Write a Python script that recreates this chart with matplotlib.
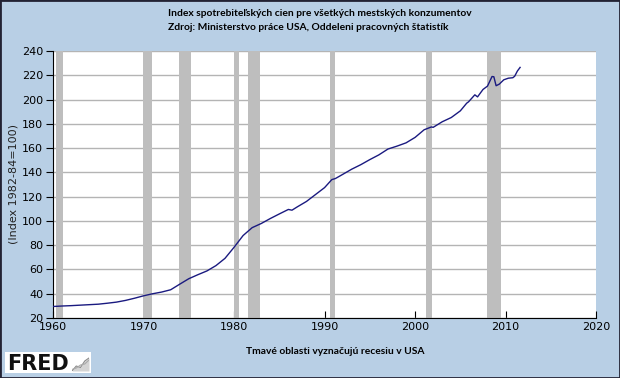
import matplotlib.pyplot as plt
from matplotlib.patches import Rectangle

# CPI-U values (year fraction, index 1982-84=100)
years = [1960.0, 1961.0, 1962.0, 1963.0, 1964.0, 1965.0, 1966.0, 1967.0, 1968.0, 1969.0,
         1970.0, 1971.0, 1972.0, 1973.0, 1974.0, 1975.0, 1976.0, 1977.0, 1978.0, 1979.0,
         1980.0, 1981.0, 1982.0, 1983.0, 1984.0, 1985.0, 1986.0, 1986.4, 1987.0, 1988.0,
         1989.0, 1990.0, 1990.8, 1991.2, 1992.0, 1993.0, 1994.0, 1995.0, 1996.0, 1997.0,
         1998.0, 1999.0, 2000.0, 2001.0, 2001.8, 2002.0, 2003.0, 2004.0, 2005.0, 2005.7,
         2005.9, 2006.6, 2006.9, 2007.5, 2008.0, 2008.5, 2008.7, 2008.95, 2009.3, 2009.8,
         2010.3, 2010.8, 2011.0, 2011.3, 2011.6]
cpi = [29.4, 29.8, 30.1, 30.5, 30.9, 31.3, 32.1, 33.0, 34.4, 36.2,
       38.2, 39.9, 41.3, 43.2, 47.8, 52.3, 55.6, 58.7, 63.1, 69.1,
       78.2, 87.9, 94.4, 97.8, 101.9, 105.7, 109.4, 108.8, 111.6, 116.0,
       121.7, 127.4, 134.0, 134.9, 138.3, 142.6, 146.3, 150.5, 154.4, 159.2,
       161.6, 164.3, 168.8, 175.1, 177.4, 177.1, 181.7, 185.2, 190.7, 197.0,
       198.1, 203.9, 202.2, 208.3, 211.1, 219.0, 218.8, 211.4, 212.7, 216.3,
       217.6, 218.0, 219.2, 223.5, 226.5]

# recessions (start, end)
recessions = [(1960.3, 1961.15), (1969.95, 1970.9), (1973.9, 1975.2), (1980.0, 1980.55),
              (1981.55, 1982.9), (1990.55, 1991.2), (2001.2, 2001.9), (2007.95, 2009.5)]

bg = '#B8CFE5'
fig = plt.figure(figsize=(6.2, 3.78), dpi=100, facecolor=bg)
ax = fig.add_axes([0.0855, 0.159, 0.876, 0.706])
ax.set_facecolor('white')

for s, e in recessions:
    ax.axvspan(s, e, color='#BEBEBE', lw=0, zorder=1)

ax.plot(years, cpi, color='#1A1A80', lw=1.0, zorder=3)

ax.set_xlim(1960, 2020)
ax.set_ylim(20, 240)
ax.set_xticks(range(1960, 2021, 10))
ax.set_yticks(range(20, 241, 20))
ax.grid(axis='y', color='#B4B4B4', lw=1.0, zorder=0)
ax.set_axisbelow(True)

for side in ['top', 'right']:
    ax.spines[side].set_visible(False)
ax.spines['left'].set_color('black')
ax.spines['bottom'].set_color('black')
ax.tick_params(axis='y', direction='out', length=5, labelsize=8, pad=2)
ax.tick_params(axis='x', direction='in', length=5, labelsize=8, pad=3)

ax.set_ylabel('(Index 1982-84=100)', fontsize=8, color='#222222')
ax.yaxis.set_label_coords(-(53 - 18) / (0.876 * 620), 0.5)

fig.text(168 / 620, 1 - 13 / 378, 'Index spotrebiteľských cien pre všetkých mestských konzumentov',
         fontsize=7.4, fontweight='bold', family='Lato', va='center', ha='left')
fig.text(168 / 620, 1 - 28 / 378, 'Zdroj: Ministerstvo práce USA, Oddeleni pracovných štatistík',
         fontsize=7.4, fontweight='bold', family='Lato', va='center', ha='left')
fig.text(335 / 620, 1 - 351 / 378, 'Tmavé oblasti vyznačujú recesiu v USA', fontsize=7.4,
         fontweight='bold', family='Lato', va='center', ha='center')

# FRED logo
fig.patches.append(Rectangle((5 / 620, 5 / 378), 86 / 620, 21 / 378, transform=fig.transFigure,
                             facecolor='white', edgecolor='none', zorder=0))
fig.text(7 / 620, 14.5 / 378, 'FRED', fontsize=15, fontweight='bold', family='DejaVu Sans',
         va='center', ha='left', color='#111111')
icon = fig.add_axes([72 / 620, 7 / 378, 17 / 620, 15 / 378], zorder=5)
icon.fill_between([0, 1, 2, 3, 4], [0, 1, 0.7, 2, 2.6], color='#D4D4D4', lw=0)
icon.plot([0, 1, 2, 3, 4], [0, 1, 0.7, 2, 2.6], color='#8A8A8A', lw=0.8)
icon.plot([0, 1, 2, 3, 4], [0.3, 0.6, 1.2, 1.4, 2.2], color='#AAAAAA', lw=0.8)
icon.set_xlim(0, 4)
icon.set_ylim(0, 3)
icon.set_xticks([])
icon.set_yticks([])
for s in icon.spines.values():
    s.set_visible(False)
icon.set_facecolor('white')

# figure border
fig.patches.append(Rectangle((0, 0), 1, 1, transform=fig.transFigure, fill=False,
                             edgecolor='#222233', lw=2.0))

fig.savefig('out.png', dpi=100, facecolor=bg)
